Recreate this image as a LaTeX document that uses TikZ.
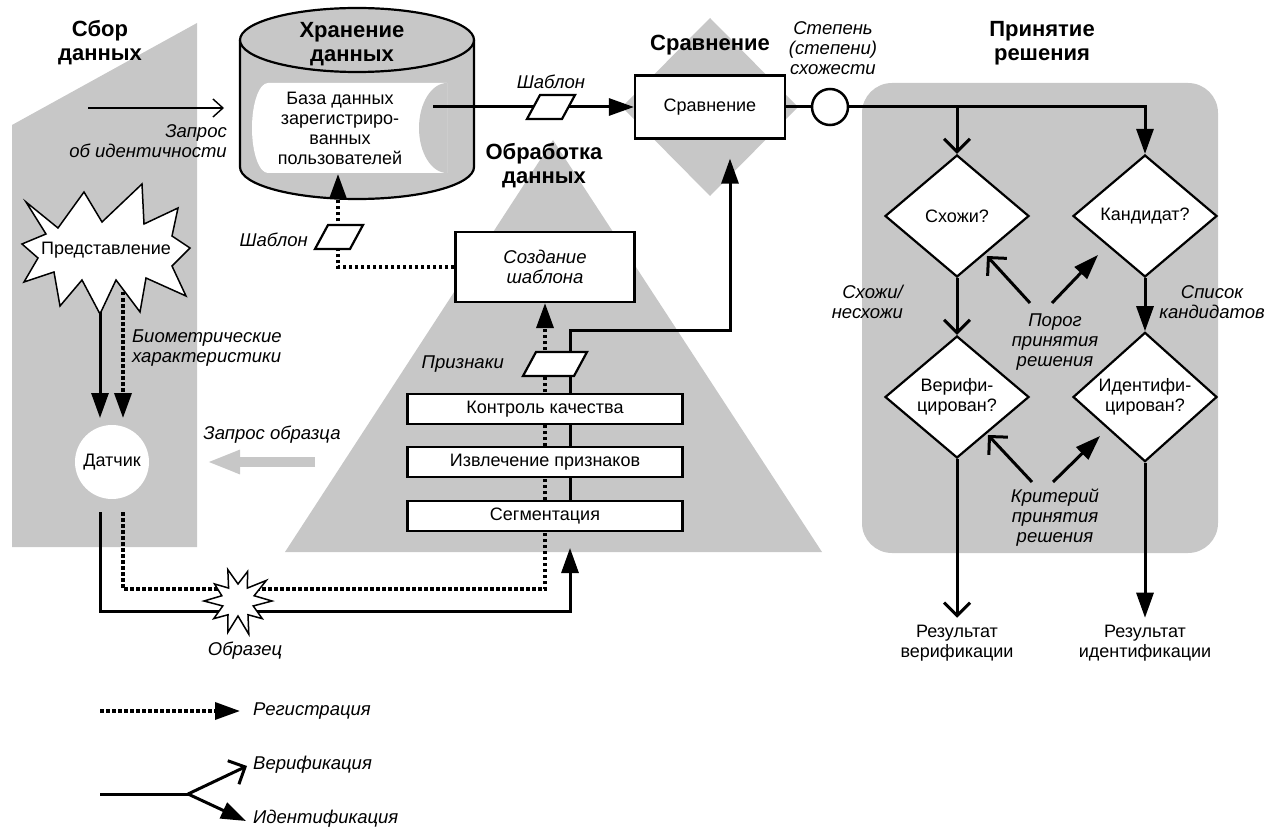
\documentclass[tikz,border=0pt]{standalone}
\usepackage{fontspec}
\setmainfont{Liberation Sans}
\usetikzlibrary{arrows.meta,shapes.geometric,calc}
\pgfdeclarelayer{bg}
\pgfdeclarelayer{wires}
\pgfsetlayers{bg,wires,main}
\colorlet{areagray}{black!22}
\tikzset{
  txt/.style={font=\fontsize{18}{20}\selectfont, align=center, inner sep=1pt},
  lbl/.style={txt, font=\fontsize{18.5}{20}\selectfont\itshape},
  ttl/.style={font=\fontsize{22}{24}\selectfont\bfseries, align=center, inner sep=1pt},
  box/.style={txt, draw, line width=2.2pt, fill=white},
  dia/.style={txt, diamond, draw, line width=2.2pt, fill=white, minimum width=144pt, minimum height=122pt, inner sep=0pt},
  burst/.style={line width=1.5pt, fill=white, line join=miter},
  vline/.style={line width=3pt, -{Straight Barb[length=13pt,width=26pt]}},
  iline/.style={line width=3pt, -{Triangle[length=25pt,width=17pt]}},
  regline/.style={line width=3.5pt, dash pattern=on 3.5pt off 2.5pt, -{Triangle[length=25pt,width=17pt]}},
}
\begin{document}
\begin{tikzpicture}[x=1pt,y=-1pt]
\useasboundingbox (0,0) rectangle (1267,829);

\begin{pgfonlayer}{bg}
\fill[areagray] (12,125) -- (197,23) -- (197,547) -- (12,547) -- cycle;
\fill[areagray] (553,140) -- (822,552) -- (285,552) -- cycle;
\fill[areagray] (710,18) -- (798,107) -- (710,196) -- (622,107) -- cycle;
\fill[areagray, rounded corners=30pt] (862,83) rectangle (1218,553);
\draw[line width=2.2pt, fill=areagray] (240,40) -- (240,167) arc (180:0:117 and 32) -- (474,40);
\draw[line width=2.2pt, fill=areagray] (357,40) ellipse (117 and 32);
\fill[white] (447,83) -- (268,83) arc (270:90:16 and 45) -- (447,173) -- cycle;
\fill[areagray] (447,83) arc (270:90:28 and 45) -- cycle;
\end{pgfonlayer}

% data collection
\node[ttl] (tcoll) at (100,43) {Сбор\\данных};
\coordinate (qa) at (88,108);
\coordinate (qb) at (224,108);
\node[lbl, align=right, anchor=east] (idreq) at (228,141) {Запрос\\об идентичности};
\draw[burst, shift={(106,250)}] (-80,-48)
  \foreach \dx/\dy in {-48/-22, -22/-58, -4/-28, 36/-66, 38/-26, 72/-42, 66/-14, 84/-2, 66/16, 80/46, 40/28, 34/62, 10/30, -6/64, -24/30, -46/56, -52/22, -82/32, -68/8, -84/-6, -60/-16}
  { -- (\dx,\dy) } -- cycle;
\node[txt] (repr) at (106,250) {Представление};
\node[lbl, align=left, anchor=west] (bio) at (131,348) {Биометрические\\характеристики};
\node[txt, circle, fill=white, minimum size=74pt, inner sep=0pt] (sens) at (112,462) {Датчик};
\node[lbl] (smpreq) at (272,435) {Запрос образца};
\draw[burst, shift={(238,601)}] (0:34)
  \foreach \a/\r in {18/16, 36/30, 54/17, 72/35, 90/15, 108/33, 126/17, 144/30, 162/16, 180/34, 198/17, 216/29, 234/16, 252/33, 270/17, 288/31, 306/16, 324/35, 342/17}
  { -- (\a:\r) } -- cycle;
\node[lbl] (smpllbl) at (245,651) {Образец};

% storage
\node[ttl] (tstore) at (352,44) {Хранение\\данных};
\node[txt] (db) at (340,128) {База данных\\зарегистриро-\\ванных\\пользователей};
\coordinate (dbout) at (433,107);
\coordinate (dbin) at (338,174);
\node[lbl] (tpl1) at (551,82) {Шаблон};
\node[lbl, anchor=east] (tpl2) at (309,240) {Шаблон};

% comparison
\node[ttl] (tcmp) at (710,45) {Сравнение};
\node[box, minimum width=150pt, minimum height=63pt] (cmp) at (710,107) {Сравнение};
\node[circle, draw, line width=2.5pt, fill=white, minimum size=36pt, inner sep=0pt] (circ) at (830,107) {};
\node[lbl] (score) at (833,48) {Степень\\(степени)\\схожести};

% processing
\node[ttl] (tproc) at (544,166) {Обработка\\данных};
\node[box, lbl, minimum width=179pt, minimum height=70pt] (tmpl) at (545,267) {Создание\\шаблона};
\foreach \nm/\lab/\yy in {ctl/Контроль качества/409, ext/Извлечение признаков/462, seg/Сегментация/516}
  \node[box, minimum width=275pt, minimum height=30pt, inner sep=0pt] (\nm) at (545,\yy) {\lab};
\node[lbl, anchor=east] (featlbl) at (505,364) {Признаки};
\foreach \px/\py/\w in {551/107/24, 339/237/24, 555/364/32}
  \draw[line width=2.2pt, fill=white] (\px-\w,\py+12) -- (\px+\w-13,\py+12) -- (\px+\w,\py-12) -- (\px-\w+13,\py-12) -- cycle;

% decision
\node[ttl] (tdec) at (1042,43) {Принятие\\решения};
\node[dia] (sim) at (957,216) {Схожи?};
\node[dia] (cand) at (1145,216) {Кандидат?};
\node[dia] (verd) at (957,397) {Верифи-\\цирован?};
\node[dia] (idd) at (1145,397) {Идентифи-\\цирован?};
\node[lbl, align=right, anchor=east] (simlbl) at (904,302) {Схожи/\\несхожи};
\node[lbl] (candlbl) at (1212,302) {Список\\кандидатов};
\node[lbl] (thr) at (1055,342) {Порог\\принятия\\решения};
\node[lbl] (crit) at (1055,518) {Критерий\\принятия\\решения};
\node[txt] (resv) at (957,643) {Результат\\верификации};
\node[txt] (resi) at (1145,643) {Результат\\идентификации};

% legend
\coordinate (lgA) at (100,711);
\coordinate (lgB) at (240,711);
\coordinate (lgC) at (100,794);
\coordinate (lgD) at (188,794);
\coordinate (lgE) at (247,766);
\coordinate (lgF) at (246,821);
\node[lbl, anchor=west] (lreg) at (252,711) {Регистрация};
\node[lbl, anchor=west] (lver) at (252,765) {Верификация};
\node[lbl, anchor=west] (lid) at (252,819) {Идентификация};

\begin{pgfonlayer}{wires}
\draw[line width=1.4pt, -{Straight Barb[length=10pt,width=18pt]}] (qa) -- (qb);
\draw[iline] ($(sens)+(-12,-170)$) -- ($(sens)+(-12,-44)$);
\draw[regline] ($(sens)+(11,-170)$) -- ($(sens)+(11,-44)$);
\draw[areagray, line width=10pt, -{Triangle[length=33pt,width=22pt]}] ($(smpreq)+(43,27)$) -- ($(sens)+(95,0)$);
\draw[iline] ($(sens)+(-12,50)$) |- ($(seg)+(25,95)$) -- ($(seg)+(25,32)$);
\draw[regline] ($(sens)+(11,50)$) |- ($(seg)+(0,73)$) -- (tmpl);
\draw[iline] ($(seg.north)+(25,0)$) |- ($(cmp)+(20,223)$) -- ($(cmp.south)+(20,19)$);
\draw[regline] (tmpl) -| (dbin);
\draw[iline] (dbout) -- (cmp);
\draw[line width=3pt] (cmp) -- (circ);
\draw[iline] (circ) -| (cand);
\draw[vline] (circ -| sim) -- (sim);
\draw[vline] (sim) -- (verd);
\draw[iline] (cand) -- (idd);
\draw[vline, shorten >=6pt] (verd) -- (resv);
\draw[iline, shorten >=6pt] (idd) -- (resi);
\draw[vline] ($(thr)+(-25,-39)$) -- ($(sim)+(30,40)$);
\draw[iline] ($(thr)+(-3,-39)$) -- ($(cand)+(-47,39)$);
\draw[vline] ($(crit)+(-23,-36)$) -- ($(verd)+(31,38)$);
\draw[iline] ($(crit)+(-2,-36)$) -- ($(idd)+(-45,39)$);
\draw[regline] (lgA) -- (lgB);
\draw[line width=3pt] (lgC) -- (lgD);
\draw[vline] (lgD) -- (lgE);
\draw[iline] (lgD) -- (lgF);
\end{pgfonlayer}
\end{tikzpicture}
\end{document}
